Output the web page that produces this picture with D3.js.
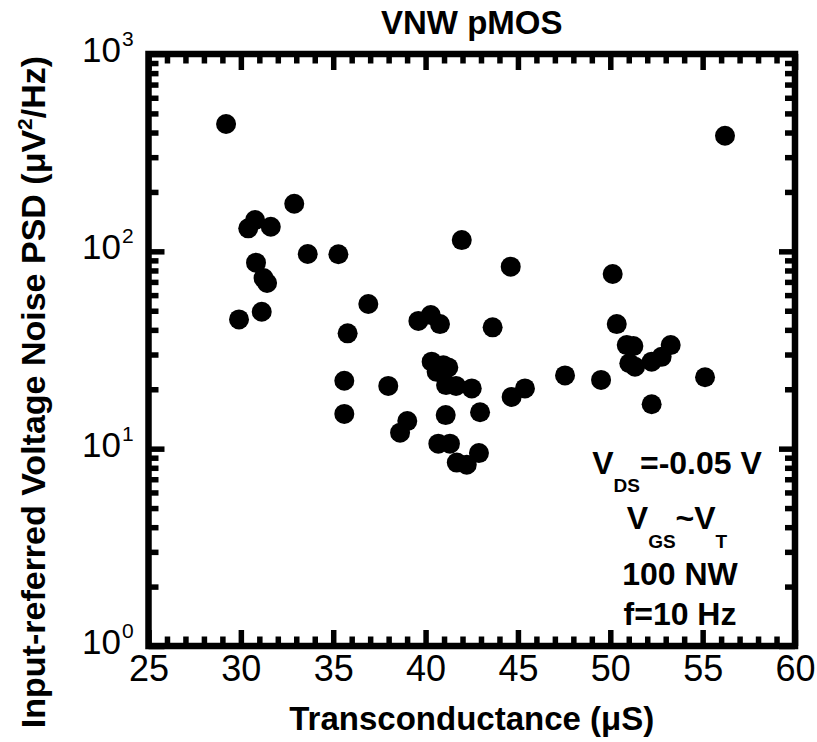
<!DOCTYPE html>
<html>
<head>
<meta charset="utf-8">
<script src="https://cdn.jsdelivr.net/npm/d3@7"></script>
<style>
  html, body { margin: 0; padding: 0; background: #fff; }
  svg { display: block; font-family: "Liberation Sans", Arial, Helvetica, sans-serif; }
</style>
</head>
<body>
<svg id="chart" width="817" height="742"></svg>
<script>
// ---- data ----
const gm = [29.20, 29.90, 30.40, 30.77, 30.82, 31.13, 31.23, 31.42, 31.62, 32.89,
            33.62, 35.28, 35.60, 35.60, 35.78, 36.90, 37.98, 38.62, 39.01, 39.61,
            40.28, 40.78, 40.33, 40.96, 41.23, 40.60, 41.11, 41.65, 42.50, 44.66,
            45.38, 41.09, 42.95, 40.69, 41.32, 42.89, 41.69, 42.23, 43.63, 44.61,
            41.96, 47.55, 49.50, 50.13, 50.35, 50.89, 51.25, 51.03, 51.34, 52.24,
            52.78, 53.27, 52.24, 55.13, 56.21];
const psd = [442, 45.2, 130.8, 144, 87.6, 49.4, 73.2, 69.1, 133.3, 174.3,
             96.9, 96.7, 22.1, 15.0, 38.4, 54.1, 20.8, 12.05, 13.8, 44.4,
             47.6, 42.8, 27.6, 26.5, 25.8, 24.5, 21.0, 20.8, 20.2, 18.3,
             20.2, 14.8, 15.3, 10.6, 10.6, 9.5, 8.5, 8.3, 41.2, 83.6,
             114, 23.5, 22.3, 76.8, 42.8, 33.5, 33.1, 27.1, 26.0, 27.6,
             29.2, 33.5, 16.8, 23.0, 385];
const xTicks = [25, 30, 35, 40, 45, 50, 55, 60];
const yTickExps = [0, 1, 2, 3];
const title = "VNW pMOS";
const xTitle = "Transconductance (\u03BCS)";
const notes = ["100 NW", "f=10 Hz"];

// ---- layout ----
const svg = d3.select("#chart");
const L = 148.5, R = 795, T = 54, B = 646;
const x = d3.scaleLinear().domain([25, 60]).range([L, R]);
const y = d3.scaleLog().domain([1, 1000]).range([B, T]);

const xMinor = d3.range(25, 61, 1).filter(v => v % 5 !== 0);
const yMajor = yTickExps.map(e => Math.pow(10, e));
const yMinor = [];
for (let e = 0; e < 3; e++) for (let m = 2; m <= 9; m++) yMinor.push(m * Math.pow(10, e));

function styleTicks(g, w) {
  g.select(".domain").remove();
  g.selectAll(".tick line").attr("stroke", "#000").attr("stroke-width", w);
  g.selectAll(".tick text").remove();
}

// ticks (inward)
const tw = 5.5;
svg.append("g").attr("transform", `translate(0,${B})`)
  .call(d3.axisBottom(x).tickValues(xTicks).tickSize(-16).tickFormat(""))
  .call(g => styleTicks(g, tw));
svg.append("g").attr("transform", `translate(0,${B})`)
  .call(d3.axisBottom(x).tickValues(xMinor).tickSize(-9.5).tickFormat(""))
  .call(g => styleTicks(g, tw));
svg.append("g").attr("transform", `translate(0,${T})`)
  .call(d3.axisTop(x).tickValues(xTicks).tickSize(-16).tickFormat(""))
  .call(g => styleTicks(g, tw));
svg.append("g").attr("transform", `translate(0,${T})`)
  .call(d3.axisTop(x).tickValues(xMinor).tickSize(-9.5).tickFormat(""))
  .call(g => styleTicks(g, tw));
svg.append("g").attr("transform", `translate(${L},0)`)
  .call(d3.axisLeft(y).tickValues(yMajor).tickSize(-16).tickFormat(""))
  .call(g => styleTicks(g, tw));
svg.append("g").attr("transform", `translate(${L},0)`)
  .call(d3.axisLeft(y).tickValues(yMinor).tickSize(-10).tickFormat(""))
  .call(g => styleTicks(g, tw));
svg.append("g").attr("transform", `translate(${R},0)`)
  .call(d3.axisRight(y).tickValues(yMajor).tickSize(-16).tickFormat(""))
  .call(g => styleTicks(g, tw));
svg.append("g").attr("transform", `translate(${R},0)`)
  .call(d3.axisRight(y).tickValues(yMinor).tickSize(-10).tickFormat(""))
  .call(g => styleTicks(g, tw));

// frame
svg.append("rect").attr("x", L).attr("y", T).attr("width", R - L).attr("height", B - T)
  .attr("fill", "none").attr("stroke", "#000").attr("stroke-width", 6.5);

// x tick labels
const xl = svg.append("g").attr("transform", `translate(0,${B})`)
  .call(d3.axisBottom(x).tickValues(xTicks).tickSize(0).tickPadding(9.5).tickFormat(d3.format("d")));
xl.select(".domain").remove();
xl.selectAll("text").attr("font-size", 36).attr("fill", "#000")
  .attr("font-family", "'Liberation Sans', Arial, sans-serif");

// y tick labels (10^n)
const yl = svg.append("g");
yTickExps.forEach(e => {
  const yy = y(Math.pow(10, e));
  yl.append("text").attr("x", 121).attr("y", yy + 8).attr("text-anchor", "end")
    .attr("font-size", 35).text("10");
  yl.append("text").attr("x", 122).attr("y", yy - 8).attr("text-anchor", "start")
    .attr("font-size", 21).text(String(e));
});

// points
svg.append("g").selectAll("circle").data(gm.map((g, i) => [g, psd[i]])).join("circle")
  .attr("cx", d => x(d[0])).attr("cy", d => y(d[1])).attr("r", 10).attr("fill", "#000");

// title
svg.append("text").attr("x", (L + R) / 2).attr("y", 34).attr("text-anchor", "middle")
  .attr("font-size", 33).attr("font-weight", "bold").text(title);

// x title
svg.append("text").attr("x", (L + R) / 2).attr("y", 730).attr("text-anchor", "middle")
  .attr("font-size", 33).attr("font-weight", "bold").text(xTitle);

// y title
const yt = svg.append("text").attr("transform", "translate(45,392) rotate(-90)")
  .attr("text-anchor", "middle").attr("font-size", 34).attr("font-weight", "bold");
yt.append("tspan").text("Input-referred Voltage Noise PSD (\u03BCV");
yt.append("tspan").attr("font-size", 21).attr("dy", -13).text("2");
yt.append("tspan").attr("dy", 13).text("/Hz)");

// annotations
const a1 = svg.append("text").attr("x", 677).attr("y", 474).attr("text-anchor", "middle")
  .attr("font-size", 32).attr("font-weight", "bold");
a1.append("tspan").text("V");
a1.append("tspan").attr("font-size", 19).attr("dy", 18).text("DS");
a1.append("tspan").attr("dy", -18).text("=-0.05 V");

const a2 = svg.append("text").attr("x", 677).attr("y", 529).attr("text-anchor", "middle")
  .attr("font-size", 32).attr("font-weight", "bold");
a2.append("tspan").text("V");
a2.append("tspan").attr("font-size", 19).attr("dy", 19).text("GS");
a2.append("tspan").attr("dy", -19).text("~V");
a2.append("tspan").attr("font-size", 19).attr("dy", 19).text("T");

svg.append("text").attr("x", 680).attr("y", 585).attr("text-anchor", "middle")
  .attr("font-size", 32).attr("font-weight", "bold").text(notes[0]);
svg.append("text").attr("x", 680).attr("y", 625).attr("text-anchor", "middle")
  .attr("font-size", 32).attr("font-weight", "bold").text(notes[1]);
</script>
</body>
</html>
